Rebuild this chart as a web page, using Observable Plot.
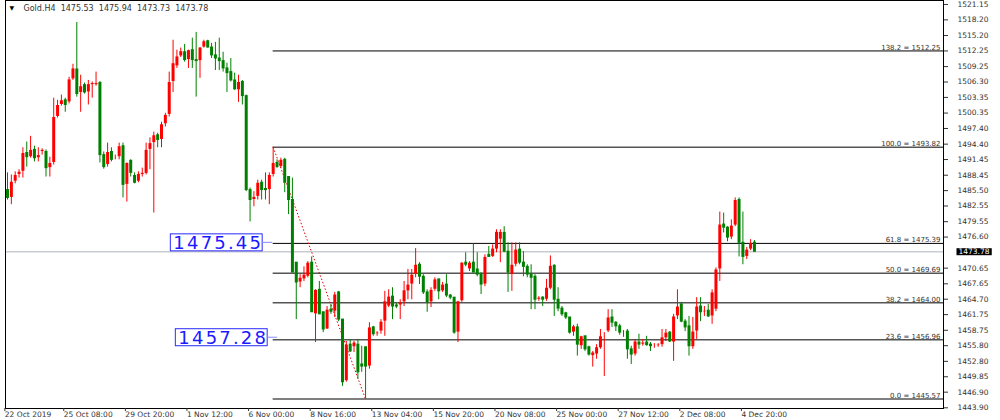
<!DOCTYPE html>
<html><head><meta charset="utf-8">
<script src="https://cdn.jsdelivr.net/npm/d3@7"></script>
<script src="https://cdn.jsdelivr.net/npm/@observablehq/plot@0.6"></script>
<style>html,body{margin:0;padding:0;background:#fff;} svg{display:block}</style>
</head><body><div id="chart"></div>
<script>
// ---- data (Gold H4, bar index 0..194) ----
const open = [
1485.6,1484.1,1487.2,1488.5,1489.1,1492.7,1491.9,1493.3,1491.7,1492.9,
1492.9,1489.8,1490.8,1499.6,1501.9,1502.8,1502.4,1506.8,1508.7,1504.2,
1505.7,1504.3,1505.7,1505.7,1506.1,1492.3,1490.4,1492.9,1491.7,1491.9,
1494.0,1486.6,1491.2,1488.3,1487.2,1488.5,1488.7,1493.3,1494.6,1496.1,
1495.2,1498.2,1500.0,1506.3,1509.3,1511.2,1512.0,1510.5,1512.4,1510.5,
1510.3,1512.9,1514.1,1512.9,1511.4,1510.8,1510.3,1508.9,1508.2,1506.6,
1504.7,1506.3,1503.6,1485.6,1483.7,1484.3,1487.0,1485.8,1485.6,1488.5,
1490.8,1490.0,1491.4,1488.1,1483.7,1471.7,1467.9,1468.5,1469.0,1471.7,
1461.8,1466.5,1462.2,1458.9,1462.7,1462.3,1466.0,1460.8,1449.0,1456.0,
1455.5,1456.0,1452.2,1455.5,1451.8,1459.3,1458.0,1458.5,1460.4,1463.3,
1465.2,1463.5,1463.5,1464.1,1466.2,1467.5,1469.4,1471.3,1469.0,1466.0,
1464.1,1466.5,1468.5,1466.2,1467.5,1465.4,1465.0,1458.3,1464.3,1471.7,
1470.4,1471.7,1470.4,1469.4,1467.5,1473.2,1472.8,1474.2,1476.1,1477.4,
1473.8,1469.4,1471.3,1474.2,1471.7,1470.9,1469.4,1469.0,1464.6,1465.0,
1464.6,1466.7,1471.1,1464.6,1462.9,1462.0,1461.2,1458.3,1459.3,1455.7,
1457.6,1455.5,1453.8,1454.1,1455.3,1457.4,1458.5,1461.2,1460.2,1459.5,
1458.3,1458.5,1455.1,1454.1,1456.4,1456.0,1456.4,1456.0,1455.7,1455.7,
1455.9,1457.2,1458.3,1456.4,1461.4,1463.7,1460.4,1459.5,1455.5,1458.5,
1463.3,1462.2,1462.5,1461.4,1462.7,1470.4,1479.0,1478.4,1476.5,1478.8,
1483.7,1475.5,1472.8,1474.2,1475.53];
const high = [
1488.9,1488.5,1489.1,1489.5,1493.7,1494.8,1495.9,1494.0,1493.7,1493.5,
1493.3,1491.9,1503.2,1502.8,1503.8,1503.2,1507.2,1509.7,1517.7,1507.6,
1506.1,1506.6,1506.3,1508.2,1506.4,1492.9,1494.6,1493.7,1492.3,1494.6,
1494.6,1490.8,1491.4,1488.9,1489.1,1489.8,1494.6,1495.6,1496.7,1496.5,
1498.6,1500.3,1508.2,1514.3,1512.4,1512.8,1513.5,1512.4,1514.7,1515.8,
1512.9,1514.3,1514.3,1513.7,1513.9,1514.7,1512.0,1509.9,1510.8,1508.0,
1507.6,1506.6,1503.8,1486.0,1485.3,1487.5,1487.5,1488.9,1488.9,1493.82,
1491.4,1491.7,1491.7,1488.1,1487.9,1471.7,1469.4,1470.9,1471.9,1472.8,
1466.5,1468.1,1462.2,1463.3,1463.7,1466.0,1466.2,1460.8,1456.6,1457.0,
1456.6,1457.0,1455.7,1455.5,1460.2,1459.5,1458.5,1460.8,1466.2,1466.5,
1466.9,1463.9,1464.6,1468.1,1470.4,1470.4,1474.4,1471.7,1469.4,1466.5,
1466.9,1468.8,1468.5,1467.9,1469.4,1465.6,1465.0,1464.3,1471.7,1473.6,
1471.9,1475.3,1473.6,1469.8,1473.2,1474.8,1475.1,1478.0,1478.0,1478.6,
1475.5,1475.5,1475.5,1475.5,1473.8,1471.3,1471.3,1469.4,1465.2,1465.2,
1468.5,1473.0,1471.3,1466.9,1463.3,1462.2,1461.2,1459.7,1459.9,1457.6,
1457.6,1455.7,1454.7,1456.0,1458.9,1458.3,1462.7,1462.7,1460.4,1459.9,
1458.7,1458.9,1455.7,1457.0,1458.0,1457.0,1457.6,1456.4,1456.2,1456.2,
1458.9,1458.9,1458.5,1461.8,1466.5,1464.1,1460.8,1461.4,1461.2,1465.0,
1465.0,1463.3,1463.7,1466.5,1470.7,1481.4,1481.2,1478.6,1479.9,1484.1,
1484.1,1481.4,1474.6,1476.1,1475.94];
const low = [
1483.7,1482.8,1486.8,1487.9,1487.9,1490.0,1491.7,1491.0,1491.0,1492.3,
1488.1,1488.1,1490.4,1499.4,1501.7,1500.5,1502.1,1506.6,1503.4,1500.5,
1504.0,1501.9,1503.2,1505.5,1490.8,1489.6,1490.0,1491.0,1491.4,1491.4,
1484.1,1483.3,1488.1,1486.8,1487.0,1488.1,1488.5,1489.5,1481.2,1493.7,
1493.7,1497.7,1499.6,1504.3,1508.9,1511.0,1510.1,1508.9,1508.9,1503.4,
1507.0,1512.8,1512.8,1510.8,1508.5,1508.5,1508.2,1504.3,1506.3,1504.7,
1502.4,1501.9,1485.3,1479.5,1482.4,1483.7,1483.7,1483.7,1482.8,1488.1,
1489.8,1489.8,1485.1,1480.9,1469.8,1460.8,1466.9,1468.1,1468.8,1462.2,
1456.4,1461.8,1458.3,1458.9,1461.8,1461.2,1460.4,1448.0,1448.8,1454.5,
1454.5,1449.4,1450.7,1445.57,1451.3,1457.6,1457.6,1458.0,1457.6,1463.1,
1460.8,1462.9,1460.8,1463.3,1464.6,1464.6,1468.8,1467.5,1465.6,1462.2,
1463.1,1466.2,1464.6,1466.0,1465.0,1464.6,1458.0,1456.4,1464.1,1470.9,
1470.0,1469.8,1469.0,1465.6,1467.1,1472.7,1472.7,1473.6,1471.7,1473.6,
1466.0,1466.2,1470.9,1471.3,1469.0,1468.8,1462.7,1462.7,1464.3,1463.3,
1464.3,1466.5,1461.4,1462.3,1461.4,1460.8,1458.0,1457.6,1453.8,1455.1,
1454.7,1453.8,1451.7,1453.2,1455.1,1449.9,1458.3,1459.3,1458.5,1457.8,
1457.4,1453.2,1452.2,1453.8,1455.1,1455.7,1455.7,1454.7,1455.3,1455.5,
1455.5,1456.6,1456.4,1452.8,1460.8,1460.2,1458.5,1453.8,1455.1,1457.0,
1460.4,1461.4,1461.2,1459.9,1462.3,1468.1,1477.4,1475.7,1476.1,1478.6,
1472.8,1471.3,1472.3,1474.0,1473.73];
const close = [
1484.1,1487.2,1488.5,1489.1,1492.7,1491.9,1493.3,1491.7,1492.3,1493.3,
1489.8,1490.8,1499.6,1501.9,1502.8,1501.9,1506.8,1508.9,1504.0,1505.5,
1504.3,1505.9,1506.1,1506.1,1492.3,1490.0,1492.9,1491.4,1491.9,1494.0,
1486.6,1490.8,1488.9,1487.0,1488.7,1488.9,1493.3,1494.6,1496.1,1495.2,
1498.2,1500.0,1506.3,1509.9,1511.2,1512.2,1510.5,1512.4,1510.5,1510.3,
1512.9,1514.1,1512.9,1511.4,1510.8,1510.3,1508.9,1508.0,1506.6,1504.9,
1506.3,1503.6,1485.6,1483.7,1484.3,1487.0,1485.6,1485.6,1488.5,1490.8,
1490.0,1491.4,1487.0,1483.7,1469.8,1467.9,1468.8,1469.4,1471.7,1462.2,
1466.5,1461.8,1458.9,1462.7,1462.3,1465.6,1460.8,1448.8,1456.0,1454.7,
1456.4,1450.7,1451.8,1451.8,1459.3,1458.0,1458.3,1460.4,1464.3,1465.2,
1463.3,1463.3,1464.1,1466.4,1467.5,1469.4,1471.3,1469.0,1466.0,1464.1,
1466.5,1468.5,1466.2,1467.5,1465.4,1465.0,1458.3,1464.3,1471.7,1471.3,
1471.7,1469.8,1469.4,1467.5,1472.8,1472.8,1474.4,1477.6,1477.6,1473.8,
1469.8,1471.3,1474.2,1471.7,1470.9,1469.4,1468.8,1464.6,1465.0,1464.6,
1466.9,1471.1,1464.6,1462.9,1461.8,1461.2,1458.3,1459.5,1456.0,1457.6,
1455.1,1454.1,1454.5,1455.5,1457.6,1457.6,1461.2,1460.2,1459.5,1458.3,
1458.5,1455.1,1454.1,1456.6,1456.0,1456.4,1455.9,1455.7,1455.9,1456.0,
1457.4,1458.3,1456.6,1461.4,1463.3,1460.4,1459.3,1455.7,1458.5,1463.3,
1462.2,1462.5,1461.4,1466.0,1470.4,1479.0,1478.4,1476.5,1478.8,1483.7,
1475.5,1472.8,1474.2,1475.5,1473.78];

const yTicks = [1521.15,1518.20,1515.20,1512.25,1509.25,1506.30,1503.35,1500.35,1497.40,1494.40,
  1491.45,1488.45,1485.50,1482.55,1479.55,1476.60,1470.65,1467.65,1464.70,1461.75,1458.75,
  1455.80,1452.80,1449.85,1446.90,1443.90];
const xTickIdx = [-0.3,15,31,47,63,79,95,111,127,143,159,175,191];
const xTickLabels = ["22 Oct 2019","25 Oct 08:00","29 Oct 20:00","1 Nov 12:00","6 Nov 00:00","8 Nov 16:00",
  "13 Nov 04:00","15 Nov 20:00","20 Nov 08:00","25 Nov 00:00","27 Nov 12:00","2 Dec 08:00","4 Dec 20:00"];
const fibLevels = [138.2,100.0,61.8,50.0,38.2,23.6,0.0];
const fibPrices = [1512.25,1493.82,1475.39,1469.69,1464.00,1456.96,1445.57];
const fibHighIdx = 69, fibLowIdx = 93;
const priceLabels = [1475.45, 1457.28];
const headerText = "Gold.H4  1475.53  1475.94  1473.73  1473.78";

// ---- build ----
const candles = open.map((o, i) => ({i, o, h: high[i], l: low[i], c: close[i]}));
const fib = fibLevels.map((lv, k) => ({lv, p: fibPrices[k], label: `${lv.toFixed(1)} = ${fibPrices[k].toFixed(2)}`}));
const lastClose = close[close.length - 1];
const UP = "#ff0000", DOWN = "#008000";
const col = d => d.c >= d.o ? UP : DOWN;
const xDomain = [-0.52, 243.1];
const tickLabel = new Map(xTickIdx.map((t, k) => [t, xTickLabels[k]]));
const F = "DejaVu Sans";
const strong = d => d.lv === 61.8 || d.lv === 50 || d.lv === 138.2;

const chart = Plot.plot({
  width: 1000, height: 420,
  marginLeft: 5, marginRight: 57, marginTop: 0, marginBottom: 12,
  style: {fontFamily: F, background: "#fff", color: "#333"},
  x: {domain: xDomain, axis: null},
  y: {domain: [1443.77, 1521.91], axis: null},
  marks: [
    Plot.ruleY([lastClose], {stroke: "#c8ccd0", strokeWidth: 1.5}),
    Plot.ruleY(fib, {y: "p", x1: fibHighIdx, x2: xDomain[1],
      stroke: d => strong(d) ? "#000" : "#555", strokeWidth: d => strong(d) ? 1 : 1.5}),
    Plot.text(fib, {y: "p", text: "label", frameAnchor: "right", textAnchor: "end",
      lineAnchor: "bottom", dx: -3, dy: -1, fontSize: 7, fill: "#333"}),
    Plot.link([{}], {x1: fibHighIdx, y1: high[fibHighIdx], x2: fibLowIdx, y2: low[fibLowIdx],
      stroke: "#e00000", strokeWidth: 1, strokeDasharray: "1.5,2"}),
    Plot.ruleX(candles, {x: "i", y1: "l", y2: "h", stroke: col, strokeWidth: 1}),
    Plot.ruleX(candles, {x: "i", y1: "o", y2: "c", stroke: col, strokeWidth: 3, insetTop: -0.5, insetBottom: -0.5}),
    Plot.frame({stroke: "#000"}),
    Plot.axisY({anchor: "right", ticks: yTicks, tickSize: 4, tickPadding: 10, label: null,
      tickFormat: d => d.toFixed(2), fontSize: 7.5, fill: "#333"}),
    Plot.axisX({anchor: "bottom", ticks: xTickIdx, tickFormat: d => tickLabel.get(d), label: null,
      tickSize: 3, tickPadding: 0, textAnchor: "start", dx: -1.5, fontSize: 7.5, fill: "#333"}),
    Plot.text([lastClose], {y: d => d, text: d => d.toFixed(2), frameAnchor: "right",
      textAnchor: "start", dx: 15, fontSize: 7.5, fill: "#fff"}),
    Plot.text([priceLabels[0]], {x: fibHighIdx, y: d => d, text: d => d.toFixed(2),
      textAnchor: "end", dx: -10, fontSize: 18, fill: "#1a1aff"}),
    Plot.text([priceLabels[1]], {x: fibHighIdx, y: d => d, text: d => d.toFixed(2),
      textAnchor: "end", dx: -5, fontSize: 18, fill: "#1a1aff"}),
    Plot.text(["▼"], {frameAnchor: "top-left", dx: 4, dy: 5, textAnchor: "start", fontSize: 6, fill: "#000"}),
    Plot.text([headerText], {frameAnchor: "top-left", dx: 18, dy: 5, textAnchor: "start", fontSize: 8, fill: "#333"})
  ]
});
document.getElementById("chart").appendChild(chart);

// boxes behind tag texts
const svg = d3.select(chart);
const lastTxt = lastClose.toFixed(2);
const blueTxt = priceLabels.map(p => p.toFixed(2));
svg.selectAll("text").filter(function () {
  return this.textContent === lastTxt && (this.getAttribute("fill") === "#fff" || this.parentNode.getAttribute("fill") === "#fff");
}).each(function () {
  const b = this.getBBox();
  d3.select(this.parentNode).insert("rect", () => this)
    .attr("transform", this.getAttribute("transform"))
    .attr("x", b.x - 2).attr("y", b.y + 1).attr("width", b.width + 4).attr("height", b.height - 2)
    .attr("fill", "#000");
});
svg.selectAll("text").filter(function () { return blueTxt.includes(this.textContent); }).each(function () {
  d3.select(this).style("letter-spacing", "2.2px");
  const b = this.getBBox();
  const g = d3.select(this.parentNode);
  g.insert("rect", () => this)
    .attr("transform", this.getAttribute("transform"))
    .attr("x", b.x - 3).attr("y", b.y + 2).attr("width", b.width + 2).attr("height", b.height - 4)
    .attr("fill", "#fff").attr("stroke", "#2a2aff").attr("stroke-width", 1);
  g.insert("line", () => this)
    .attr("transform", this.getAttribute("transform"))
    .attr("x1", b.x + b.width - 1).attr("x2", b.x + b.width + 9)
    .attr("y1", b.y + b.height / 2).attr("y2", b.y + b.height / 2)
    .attr("stroke", "#8a8aff").attr("stroke-width", 1);
});
</script>
</body></html>
